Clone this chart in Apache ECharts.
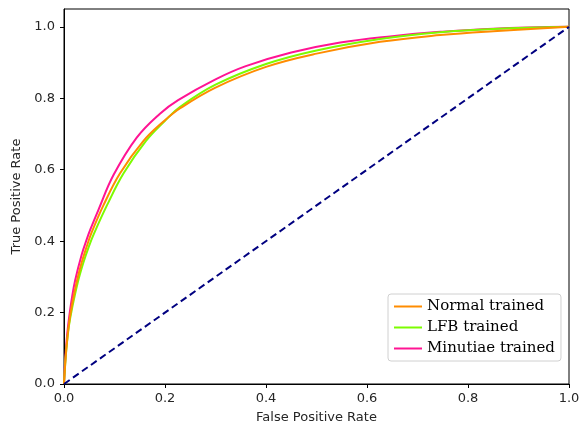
<!DOCTYPE html>
<html>
<head>
<meta charset="utf-8">
<script src="https://cdn.jsdelivr.net/npm/echarts@6/dist/echarts.min.js"></script>
<style>
  html, body { margin: 0; padding: 0; background: #fff; }
  #chart { width: 580px; height: 428px; }
</style>
</head>
<body>
<div id="chart"></div>
<script>
// ROC curves: [false positive rate, true positive rate]
const normalROC = [
  [0, 0], [0.003, 0.07], [0.006, 0.12], [0.010, 0.17], [0.015, 0.215],
  [0.025, 0.285], [0.035, 0.340], [0.045, 0.385], [0.055, 0.425], [0.078, 0.500],
  [0.111, 0.590], [0.157, 0.680], [0.197, 0.735], [0.230, 0.772], [0.300, 0.830],
  [0.400, 0.888], [0.500, 0.925], [0.626, 0.958], [0.745, 0.977], [0.850, 0.988],
  [1.0, 1.0]
];
const lfbROC = [
  [0, 0], [0.003, 0.068], [0.006, 0.117], [0.010, 0.165], [0.016, 0.212],
  [0.027, 0.283], [0.038, 0.338], [0.049, 0.384], [0.060, 0.423], [0.085, 0.500],
  [0.118, 0.590], [0.162, 0.680], [0.200, 0.737], [0.230, 0.776], [0.300, 0.838],
  [0.400, 0.896], [0.500, 0.934], [0.626, 0.966], [0.745, 0.985], [0.850, 0.994],
  [1.0, 1.0]
];
const minutiaeROC = [
  [0, 0], [0.003, 0.08], [0.006, 0.135], [0.010, 0.185], [0.015, 0.235],
  [0.022, 0.290], [0.035, 0.362], [0.045, 0.405], [0.052, 0.432], [0.068, 0.487],
  [0.098, 0.585], [0.144, 0.690], [0.190, 0.757], [0.226, 0.795], [0.300, 0.853],
  [0.360, 0.890], [0.450, 0.928], [0.547, 0.956], [0.650, 0.974], [0.745, 0.986],
  [0.850, 0.995], [1.0, 1.0]
];
const chanceLine = [[0, 0], [1, 1]];
const tickValues = [0, 0.2, 0.4, 0.6, 0.8, 1.0];
const seriesNames = ['Normal trained', 'LFB trained', 'Minutiae trained'];

const fmt = v => v.toFixed(1);
const tickFont = { fontFamily: 'DejaVu Sans', fontSize: 13, color: '#262626' };

function rocSeries(name, data, color) {
  return {
    name, type: 'line', data, showSymbol: false, smooth: 0.4,
    lineStyle: { color, width: 2 }, itemStyle: { color }, animation: false
  };
}

const chart = echarts.init(document.getElementById('chart'), null, { renderer: 'canvas' });
chart.setOption({
  animation: false,
  grid: {
    left: 64, right: 11, top: 9, bottom: 44,
    containLabel: false, outerBoundsMode: 'none',
    show: true, borderColor: '#000', borderWidth: 1, backgroundColor: 'transparent'
  },
  xAxis: {
    type: 'value', min: 0, max: 1, interval: 0.2,
    name: 'False Positive Rate', nameLocation: 'middle', nameGap: 27,
    nameTextStyle: { fontFamily: 'DejaVu Sans', fontSize: 13, color: '#262626' },
    axisLine: { show: true, lineStyle: { color: '#000', width: 1 } },
    axisTick: { show: true, length: 4, lineStyle: { color: '#000' }, customValues: tickValues },
    axisLabel: Object.assign({ margin: 8, formatter: fmt, customValues: tickValues }, tickFont),
    splitLine: { show: false }
  },
  yAxis: {
    type: 'value', min: 0, max: 1.05,
    name: 'True Positive Rate', nameLocation: 'middle', nameGap: 40, nameRotate: 90,
    nameTextStyle: { fontFamily: 'DejaVu Sans', fontSize: 13, color: '#262626' },
    axisLine: { show: true, lineStyle: { color: '#000', width: 1 } },
    axisTick: { show: true, length: 4, lineStyle: { color: '#000' }, customValues: tickValues },
    axisLabel: Object.assign({ margin: 9, formatter: fmt, customValues: tickValues }, tickFont),
    splitLine: { show: false }
  },
  legend: {
    data: seriesNames,
    orient: 'vertical',
    left: 388, top: 294,
    padding: [4, 6, 4, 6],
    itemGap: 4,
    itemWidth: 28, itemHeight: 2,
    icon: 'rect',
    backgroundColor: 'rgba(255,255,255,0.85)',
    borderColor: '#d0d0d0', borderWidth: 1, borderRadius: 3,
    textStyle: { fontFamily: 'DejaVu Serif', fontSize: 15, color: '#000', lineHeight: 17 }
  },
  series: [
    rocSeries('Minutiae trained', minutiaeROC, '#ff1493'),
    rocSeries('LFB trained', lfbROC, '#7cfc00'),
    rocSeries('Normal trained', normalROC, '#ff8c00'),
    {
      name: 'chance', type: 'line', data: chanceLine, showSymbol: false,
      lineStyle: { color: '#000080', width: 2, type: [7, 4] }, animation: false
    }
  ]
});
</script>
</body>
</html>
